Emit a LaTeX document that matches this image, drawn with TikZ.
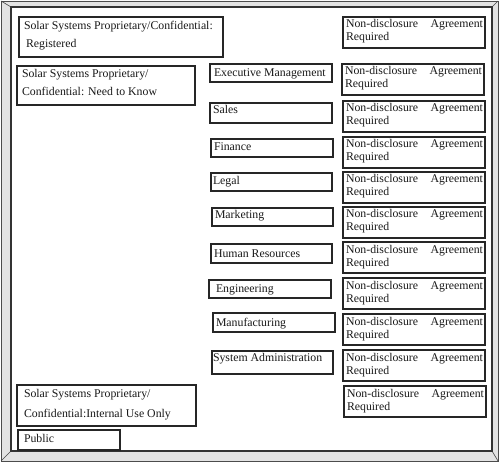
\documentclass[tikz,border=0pt]{standalone}
\usepackage{fontspec}
\setmainfont{Liberation Serif}
\usetikzlibrary{calc}
\tikzset{
  boxst/.style={draw=black!85, line width=1.1bp, fill=white, inner sep=0pt, outer sep=0pt, rectangle},
  txt/.style={inner sep=0pt, outer sep=0pt, font=\fontsize{11.8bp}{14bp}\selectfont, text=black!90},
  bevel/.style={fill=gray!22, even odd rule},
}
\newcommand\boxat[5]{\node[boxst, minimum width={(#4-#2)*1bp}, minimum height={(#5-#3)*1bp}, anchor=north west] (#1) at (#2,#3) {};}
\newcommand\ndabox[3]{%
  \boxat{#1}{#2}{#3}{#2+142}{#3+31}
  \node[txt, anchor=base west] (#1-a) at ($(#1.north west)+(3,11)$) {Non-disclosure};
  \node[txt, anchor=base east] (#1-b) at ($(#1.north east)+(-2,11)$) {Agreement};
  \node[txt, anchor=base west] (#1-c) at ($(#1.north west)+(3,24)$) {Required};
}
\begin{document}
\begin{tikzpicture}[x=1bp, y=-1bp]
\useasboundingbox (0,0) rectangle (504,468);
% frame
\fill[bevel] (1,1) rectangle (498,461) (11,7) rectangle (492,451);
\draw[gray!60!black, line width=0.8bp] (1,1) rectangle (498,461);
\draw[gray!55!black, line width=0.6bp] (1,1) -- (11,7) (498,1) -- (492,7) (1,461) -- (11,451) (498,461) -- (492,451);
\draw[gray!40!black, line width=1.6bp] (11,7) rectangle (492,451);
% left boxes
\boxat{reg}{19}{17}{223}{57}
\node[txt, anchor=base west] (reg-a) at ($(reg.north west)+(5,13)$) {Solar Systems Proprietary/Confidential:};
\node[txt, anchor=base west] (reg-b) at ($(reg.north west)+(7,31)$) {Registered};
\boxat{ntk}{17}{66}{195}{105}
\node[txt, anchor=base west] (ntk-a) at ($(ntk.north west)+(5,12)$) {Solar Systems Proprietary/};
\node[txt, anchor=base west] (ntk-b) at ($(ntk.north west)+(5,30)$) {Confidential: Need to Know};
\boxat{int}{17}{385}{196}{426}
\node[txt, anchor=base west] (int-a) at ($(int.north west)+(7,12)$) {Solar Systems Proprietary/};
\node[txt, anchor=base west] (int-b) at ($(int.north west)+(7,32)$) {Confidential:Internal Use Only};
\boxat{pub}{18}{430}{120}{450}
\node[txt, anchor=base west] (pub-a) at ($(pub.north west)+(6,12)$) {Public};
% departments
\boxat{exe}{210}{64}{332}{82}
\node[txt, anchor=base west] (exe-a) at ($(exe.north west)+(4,13)$) {Executive Management};
\boxat{sal}{210}{103}{332}{123}
\node[txt, anchor=base west] (sal-a) at ($(sal.north west)+(3,11)$) {Sales};
\boxat{fin}{211}{139}{333}{157}
\node[txt, anchor=base west] (fin-a) at ($(fin.north west)+(3,12)$) {Finance};
\boxat{leg}{211}{173}{332}{191}
\node[txt, anchor=base west] (leg-a) at ($(leg.north west)+(2,12)$) {Legal};
\boxat{mkt}{212}{208}{333}{226}
\node[txt, anchor=base west] (mkt-a) at ($(mkt.north west)+(3,11)$) {Marketing};
\boxat{hr}{211}{244}{332}{263}
\node[txt, anchor=base west] (hr-a) at ($(hr.north west)+(3,13)$) {Human Resources};
\boxat{eng}{209}{280}{331}{298}
\node[txt, anchor=base west] (eng-a) at ($(eng.north west)+(7,12)$) {Engineering};
\boxat{mfg}{213}{313}{335}{332}
\node[txt, anchor=base west] (mfg-a) at ($(mfg.north west)+(3,13)$) {Manufacturing};
\boxat{sys}{212}{351}{333}{374}
\node[txt, anchor=base west] (sys-a) at ($(sys.north west)+(1,10)$) {System Administration};
% NDA boxes
\ndabox{n1}{343}{17}
\ndabox{n2}{342}{64}
\ndabox{n3}{343}{101}
\ndabox{n4}{343}{137}
\ndabox{n5}{343}{172}
\ndabox{n6}{343}{207}
\ndabox{n7}{343}{242}
\ndabox{n8}{343}{278}
\ndabox{n9}{343}{314}
\ndabox{n10}{343}{350}
\ndabox{n11}{344}{386}
\end{tikzpicture}
\end{document}
